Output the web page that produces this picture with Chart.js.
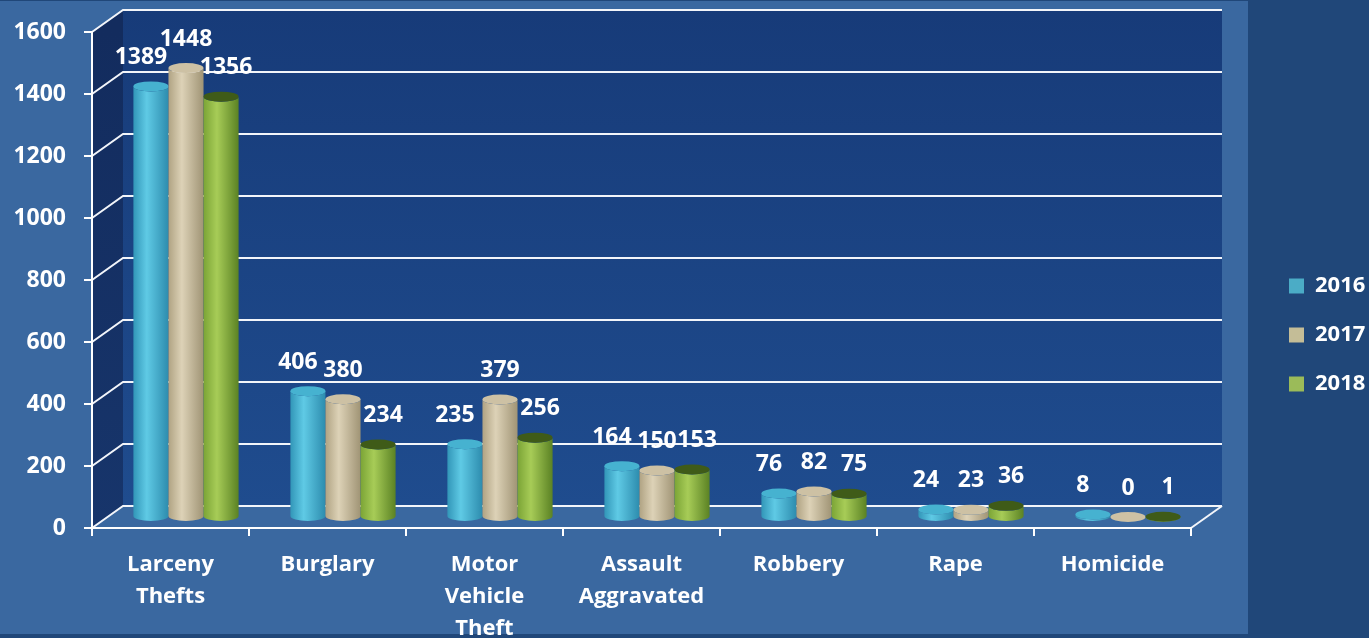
<!DOCTYPE html>
<html>
<head>
<meta charset="utf-8">
<script src="https://cdn.jsdelivr.net/npm/chart.js@4.4.1/dist/chart.umd.min.js"></script>
<style>
  html, body { margin: 0; padding: 0; background: #204779; }
  #wrap { width: 1369px; height: 638px; }
</style>
</head>
<body>
<div id="wrap"><canvas id="chart" width="1369" height="638"></canvas></div>
<script>
// data
const categories = [
  ["Larceny", "Thefts"],
  ["Burglary"],
  ["Motor", "Vehicle", "Theft"],
  ["Assault", "Aggravated"],
  ["Robbery"],
  ["Rape"],
  ["Homicide"]
];
const years = ["2016", "2017", "2018"];
const values2016 = [1389, 406, 235, 164, 76, 24, 8];
const values2017 = [1448, 380, 379, 150, 82, 23, 0];
const values2018 = [1356, 234, 256, 153, 75, 36, 1];
const yMin = 0;
const yMax = 1600;
const yStep = 200;

const FONT = "'Open Sans', 'DejaVu Sans', sans-serif";
const DX = 31, DY = 22; // depth of the fake 3d box

// colours per series: legend, body gradient (left, light, right), top
const seriesStyle = [
  { fill: "#4BACC6", body: ["#3296B8", "#5FCAE5", "#2D8CAE"], top: "#46B2D0" },
  { fill: "#C4BD97", body: ["#B0A383", "#DDD2B7", "#A09475"], top: "#CDC1A4" },
  { fill: "#9BBB59", body: ["#7BA436", "#A7CC57", "#5B8224"], top: "#3F5B18" }
];
const labelShift = [-10, 0, 5];

const boxPlugin = {
  id: "box3d",
  beforeDraw(chart) {
    const { ctx, chartArea: a, scales } = chart;
    const y = scales.y;
    ctx.save();
    ctx.fillStyle = "#204779";
    ctx.fillRect(0, 0, chart.width, chart.height);
    ctx.fillStyle = "#3A68A0";
    ctx.fillRect(0, 1, 1248, 633);

    // back wall
    const g = ctx.createLinearGradient(0, a.top - DY, 0, a.bottom - DY);
    g.addColorStop(0, "#173B79");
    g.addColorStop(1, "#1F4C8E");
    ctx.fillStyle = g;
    ctx.fillRect(a.left + DX, a.top - DY, a.right - a.left, a.bottom - a.top);

    // left wall
    const g2 = ctx.createLinearGradient(0, a.top, 0, a.bottom);
    g2.addColorStop(0, "#132C5E");
    g2.addColorStop(1, "#17356B");
    ctx.fillStyle = g2;
    ctx.beginPath();
    ctx.moveTo(a.left, a.top);
    ctx.lineTo(a.left + DX, a.top - DY);
    ctx.lineTo(a.left + DX, a.bottom - DY);
    ctx.lineTo(a.left, a.bottom);
    ctx.closePath();
    ctx.fill();

    // grid lines on side and back wall
    ctx.strokeStyle = "#F2F5FA";
    ctx.lineWidth = 2;
    y.ticks.forEach((t) => {
      const yf = y.getPixelForValue(t.value);
      ctx.beginPath();
      ctx.moveTo(a.left, yf);
      ctx.lineTo(a.left + DX, yf - DY);
      ctx.lineTo(a.right + DX, yf - DY);
      ctx.stroke();
    });
    ctx.beginPath();
    ctx.moveTo(a.right, a.bottom);
    ctx.lineTo(a.right + DX, a.bottom - DY);
    ctx.stroke();
    ctx.restore();
  },
  beforeDatasetDraw() {
    return false; // bars are drawn as cylinders below
  },
  afterDatasetsDraw(chart) {
    const { ctx } = chart;
    const ox = DX / 2, oy = DY / 2;
    ctx.save();
    chart.data.datasets.forEach((ds, i) => {
      const st = seriesStyle[i];
      chart.getDatasetMeta(i).data.forEach((bar) => {
        const cx = bar.x + ox;
        const rx = bar.width / 2;
        const ry = 5;
        const yt = bar.y - oy;
        const yb = bar.base - oy;
        const g = ctx.createLinearGradient(cx - rx, 0, cx + rx, 0);
        g.addColorStop(0, st.body[0]);
        g.addColorStop(0.38, st.body[1]);
        g.addColorStop(1, st.body[2]);
        ctx.fillStyle = g;
        ctx.beginPath();
        ctx.moveTo(cx - rx, yt);
        ctx.lineTo(cx - rx, yb);
        ctx.ellipse(cx, yb, rx, ry, 0, Math.PI, 0, true);
        ctx.lineTo(cx + rx, yt);
        ctx.ellipse(cx, yt, rx, ry, 0, 0, Math.PI, false);
        ctx.closePath();
        ctx.fill();
        ctx.fillStyle = st.top;
        ctx.beginPath();
        ctx.ellipse(cx, yt, rx, ry, 0, 0, Math.PI * 2);
        ctx.fill();
      });
    });
    // value labels
    ctx.fillStyle = "#FFFFFF";
    ctx.font = "bold 23px " + FONT;
    ctx.textAlign = "center";
    ctx.textBaseline = "middle";
    chart.data.datasets.forEach((ds, i) => {
      chart.getDatasetMeta(i).data.forEach((bar, j) => {
        ctx.fillText(String(ds.data[j]), bar.x + ox + labelShift[i], bar.y - oy - 29);
      });
    });
    ctx.restore();
  }
};

const seriesValues = [values2016, values2017, values2018];

new Chart(document.getElementById("chart"), {
  type: "bar",
  data: {
    labels: categories,
    datasets: years.map((yr, i) => ({
      label: yr,
      data: seriesValues[i],
      backgroundColor: seriesStyle[i].fill,
      borderColor: seriesStyle[i].fill,
      borderWidth: 0,
      categoryPercentage: 0.67,
      barPercentage: 1.0
    }))
  },
  options: {
    responsive: false,
    animation: false,
    devicePixelRatio: 1,
    layout: { padding: { top: 32, left: 0, right: 0, bottom: 0 } },
    plugins: {
      legend: {
        position: "right",
        maxWidth: 107,
        labels: {
          color: "#FFFFFF",
          font: { family: FONT, size: 22, weight: "bold" },
          boxWidth: 15,
          boxHeight: 15,
          padding: 27
        }
      },
      tooltip: { enabled: false }
    },
    scales: {
      x: {
        grid: {
          drawOnChartArea: false,
          drawTicks: true,
          tickLength: 8,
          color: "#FFFFFF",
          lineWidth: 2
        },
        border: { display: true, color: "#FFFFFF", width: 2 },
        ticks: {
          color: "#FFFFFF",
          padding: 13,
          maxRotation: 0,
          autoSkip: false,
          font: { family: FONT, size: 22, weight: "bold", lineHeight: 1.45 }
        },
        afterFit(s) { s.height = 110; }
      },
      y: {
        min: yMin,
        max: yMax,
        grid: {
          drawOnChartArea: false,
          drawTicks: true,
          tickLength: 8,
          color: "#FFFFFF",
          lineWidth: 2
        },
        border: { display: true, color: "#FFFFFF", width: 2 },
        ticks: {
          stepSize: yStep,
          color: "#FFFFFF",
          padding: 18,
          font: { family: FONT, size: 23, weight: "bold" },
          callback: (v) => String(v)
        },
        afterFit(s) { s.width = 92; }
      },
      gap: {
        type: "linear",
        position: "right",
        display: true,
        grid: { display: false },
        border: { display: false },
        ticks: { display: false },
        afterFit(s) { s.width = 71; }
      }
    }
  },
  plugins: [boxPlugin]
});
</script>
</body>
</html>
